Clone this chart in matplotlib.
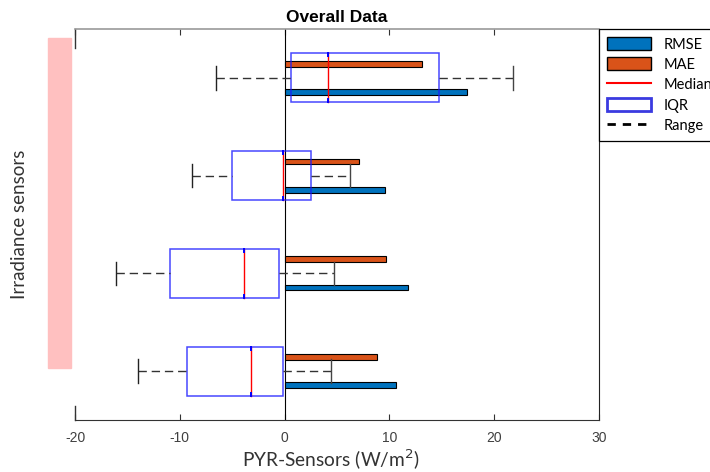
import numpy as np
import matplotlib.pyplot as plt
from matplotlib.patches import Rectangle, Patch
from matplotlib.lines import Line2D

plt.rcParams['axes.unicode_minus'] = False

# groups, top to bottom
groups = [1, 2, 3, 4]
rmse = [17.4, 9.55, 11.8, 10.65]
mae = [13.1, 7.1, 9.65, 8.8]
q1 = [0.6, -5.05, -10.9, -9.35]
q3 = [14.7, 2.55, -0.5, -0.2]
median = [4.15, -0.15, -3.85, -3.25]
wlow = [-6.55, -8.8, -16.05, -13.95]
whigh = [21.75, 6.25, 4.7, 4.45]

blue = '#0072BD'
orange = '#D95319'

fig = plt.figure(figsize=(7.1, 4.72), dpi=100)
ax = fig.add_axes([75/710, 1-420/472, 524/710, 391/472])

y = np.array(groups, dtype=float)
bh = 0.06
ax.barh(y - 0.145, mae, height=bh, color=orange, edgecolor='black', linewidth=0.8, zorder=3)
ax.barh(y + 0.145, rmse, height=bh, color=blue, edgecolor='black', linewidth=0.8, zorder=3)

ax.axvline(0, color='black', lw=0.8, zorder=2)

half = 0.25
cap = 0.12
for i, g in enumerate(groups):
    # IQR box
    ax.add_patch(Rectangle((q1[i], g - half), q3[i] - q1[i], 2 * half, fill=False,
                           edgecolor='#1a1aff', lw=1.1, alpha=0.8, zorder=4))
    # median with small notch marks
    ax.plot([median[i], median[i]], [g - half, g + half], color='red', lw=1.0, zorder=5)
    ax.plot([median[i], median[i]], [g - half, g - half + 0.03], color='blue', lw=1.4, zorder=6)
    ax.plot([median[i], median[i]], [g + half - 0.03, g + half], color='blue', lw=1.4, zorder=6)
    # whiskers
    ax.plot([wlow[i], q1[i]], [g, g], color='#333333', lw=1.0, dashes=(6, 3.5), zorder=4)
    ax.plot([q3[i], whigh[i]], [g, g], color='#333333', lw=1.0, dashes=(6, 3.5), zorder=4)
    ax.plot([wlow[i], wlow[i]], [g - cap, g + cap], color='#222222', lw=1.0, zorder=4)
    ax.plot([whigh[i], whigh[i]], [g - cap, g + cap], color='#444444', lw=1.0, zorder=4)

ax.set_xlim(-20, 30)
ax.set_ylim(4.5, 0.5)
ax.set_xticks([-20, -10, 0, 10, 20, 30])
ax.set_yticks([])
ax.tick_params(axis='x', direction='in', length=4, top=True, pad=8,
               labelsize=10, labelcolor='#404040', color='#333333')
for lab in ax.get_xticklabels():
    lab.set_family('Liberation Sans')

ax.spines['left'].set_visible(False)
ax.spines['top'].set_color('#999999')
ax.spines['top'].set_linewidth(1.2)
ax.spines['bottom'].set_color('#333333')
ax.spines['right'].set_color('#222222')
ax.plot([0, 0], [1, 1 - 19/391], color='#333333', lw=1.0, transform=ax.transAxes, clip_on=False)
ax.plot([0, 0], [0, 14/391], color='#333333', lw=1.0, transform=ax.transAxes, clip_on=False)

ax.set_title('Overall Data', fontsize=12.5, fontweight='bold', family='Liberation Sans', pad=5)

# pink strip and axis labels
fig.patches.append(Rectangle((48/710, 1-368/472), 23/710, 330/472, color='#ffc0c0',
                             transform=fig.transFigure, zorder=0))
fig.text(20/710, 0.525, 'Irradiance sensors', rotation=90, ha='center', va='center',
         fontsize=13.5, family='Lato', color='#333333')
fig.text(331/710, 1-460/472, 'PYR-Sensors (W/m$^{2}$)', ha='center', va='center',
         fontsize=13.8, family='Lato', color='#333333')

handles = [
    Patch(facecolor=blue, edgecolor='black', label='RMSE'),
    Patch(facecolor=orange, edgecolor='black', label='MAE'),
    Line2D([], [], color='red', lw=1.5, label='Median'),
    Patch(facecolor='white', edgecolor='#3a3ae0', lw=2, label='IQR'),
    Line2D([], [], color='black', lw=2, dashes=(3, 2.5), label='Range'),
]
leg = ax.legend(handles=handles, loc='upper left', bbox_to_anchor=(1.0, 1.0), borderaxespad=0,
                fancybox=False, edgecolor='black', framealpha=1, handlelength=3.0,
                handleheight=1.0, labelspacing=0.4, borderpad=0.55, handletextpad=0.9,
                prop={'family': 'Lato', 'size': 10.5})
leg.get_frame().set_linewidth(0.9)

fig.savefig('out.png', dpi=100)
